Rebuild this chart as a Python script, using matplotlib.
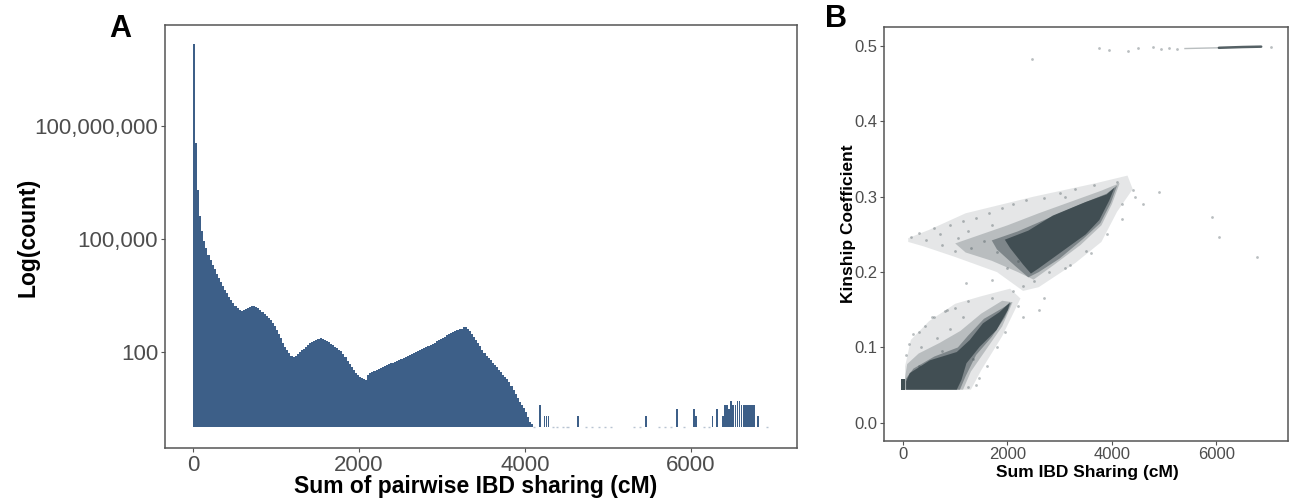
import numpy as np
import matplotlib.pyplot as plt
from matplotlib.ticker import FixedLocator, FuncFormatter

plt.rcParams['font.family'] = ['Liberation Sans', 'DejaVu Sans']

# ---- panel A: histogram of summed IBD sharing (25 cM bins, log10 counts) ----
bin_width = 25
hist_log10 = [
    10.17, 7.55, 6.30, 5.60, 5.20, 4.95, 4.75, 4.58, 4.45, 4.32,
    4.20, 4.08, 3.96, 3.85, 3.75, 3.65, 3.56, 3.47, 3.38, 3.30,
    3.23, 3.16, 3.11, 3.10, 3.12, 3.15, 3.18, 3.20, 3.21, 3.22,
    3.20, 3.17, 3.12, 3.06, 3.00, 2.95, 2.90, 2.85, 2.78, 2.68,
    2.58, 2.47, 2.36, 2.25, 2.14, 2.06, 1.98, 1.90, 1.86, 1.90,
    1.95, 2.00, 2.05, 2.09, 2.14, 2.19, 2.23, 2.27, 2.30, 2.33,
    2.35, 2.36, 2.34, 2.32, 2.30, 2.26, 2.22, 2.18, 2.14, 2.10,
    2.06, 2.02, 1.95, 1.86, 1.76, 1.68, 1.60, 1.52, 1.45, 1.39,
    1.34, 1.30, 1.27, 1.26, 1.38, 1.44, 1.46, 1.49, 1.52, 1.55,
    1.58, 1.61, 1.64, 1.66, 1.68, 1.70, 1.71, 1.74, 1.76, 1.78,
    1.81, 1.83, 1.86, 1.89, 1.91, 1.94, 1.96, 1.99, 2.02, 2.04,
    2.07, 2.10, 2.12, 2.15, 2.18, 2.22, 2.25, 2.28, 2.31, 2.35,
    2.38, 2.41, 2.44, 2.47, 2.50, 2.52, 2.55, 2.57, 2.60, 2.62,
    2.65, 2.66, 2.62, 2.56, 2.48, 2.40, 2.32, 2.24, 2.15, 2.06,
    1.98, 1.90, 1.85, 1.78, 1.72, 1.65, 1.59, 1.53, 1.46, 1.40,
    1.33, 1.27, 1.20, 1.10, 1.00, 0.88, 0.78, 0.68, 0.60, 0.50,
    0.40, 0.28, 0.15, 0.08,
]
# sparse tail bins beyond ~4100 cM (left edge, count)
tail_bins = [4175, 4225, 4250, 4275, 4625, 5450, 5825, 6025, 6050, 6250,
             6300, 6375, 6400, 6425, 6450, 6475, 6500, 6525, 6550, 6575,
             6600, 6625, 6650, 6675, 6700, 6725, 6750, 6800]
tail_counts = [4, 2, 2, 2, 2, 2, 3, 3, 2, 2,
               3, 2, 4, 4, 3, 5, 4, 4, 5, 5,
               4, 4, 4, 4, 4, 4, 4, 2]
# bins holding a single pair (drawn flat on the baseline)
single_bins = [4100, 4325, 4375, 4450, 4500, 4725, 4800, 4875, 4950, 5025,
               5300, 5375, 5600, 5675, 5750, 5900, 6150, 6200, 6900]

a_xticks = [0, 2000, 4000, 6000]
a_yticks = [100, 100000, 100000000]

# ---- panel B: kinship vs summed IBD, dense regions outlined (cM, kinship) ----
low_halo_x = [40, 1300, 1500, 1900, 2250, 2050, 1500, 1000, 500, 150, 40]
low_halo_y = [0.044, 0.044, 0.070, 0.115, 0.165, 0.178, 0.168, 0.158, 0.135, 0.110, 0.075]
low_mid_x = [40, 1150, 1300, 1600, 1900, 2100, 1900, 1500, 1100, 700, 300, 80, 40]
low_mid_y = [0.044, 0.044, 0.068, 0.098, 0.128, 0.160, 0.162, 0.145, 0.122, 0.106, 0.092, 0.078, 0.060]
low_inner_x = [50, 1090, 1200, 1400, 1700, 1950, 2080, 1900, 1550, 1250, 1050, 600, 200, 50]
low_inner_y = [0.044, 0.044, 0.062, 0.090, 0.114, 0.140, 0.160, 0.152, 0.138, 0.116, 0.100, 0.088, 0.072, 0.058]
low_core_x = [60, 1030, 1120, 1215, 1470, 1790, 2010, 2050, 1850, 1530, 1280, 1030, 515, 130, 60]
low_core_y = [0.044, 0.044, 0.057, 0.079, 0.101, 0.123, 0.150, 0.160, 0.147, 0.132, 0.110, 0.094, 0.083, 0.066, 0.055]
zero_core_x = [-30, 40, 40, -30]
zero_core_y = [0.044, 0.044, 0.058, 0.058]

up_halo_x = [100, 500, 1200, 2500, 3700, 4300, 4400, 4100, 3800, 3300, 2600, 2300, 1800, 1000, 400, 100]
up_halo_y = [0.245, 0.256, 0.278, 0.300, 0.318, 0.328, 0.310, 0.280, 0.240, 0.212, 0.180, 0.175, 0.200, 0.220, 0.234, 0.240]
up_mid_x = [1000, 1500, 2000, 2600, 3200, 3800, 4150, 4000, 3800, 3400, 2900, 2500, 2200, 1700, 1200]
up_mid_y = [0.238, 0.250, 0.262, 0.278, 0.293, 0.308, 0.318, 0.290, 0.262, 0.236, 0.210, 0.190, 0.200, 0.215, 0.226]
up_inner_x = [1700, 2200, 2800, 3400, 3900, 4100, 3980, 3780, 3450, 3000, 2600, 2400, 2150, 1800]
up_inner_y = [0.242, 0.254, 0.272, 0.290, 0.304, 0.315, 0.292, 0.265, 0.244, 0.218, 0.200, 0.193, 0.208, 0.230]
up_core_x = [1950, 2400, 2870, 3500, 3900, 4050, 3950, 3760, 3500, 3000, 2600, 2450, 2300, 2050]
up_core_y = [0.243, 0.255, 0.275, 0.293, 0.303, 0.312, 0.295, 0.269, 0.250, 0.225, 0.205, 0.198, 0.210, 0.232]

# parent-offspring band at kinship 0.5
po_faint_x = [5400, 6050]
po_faint_y = [0.4965, 0.4975]
po_dark_x = [6050, 6500, 6860]
po_dark_y = [0.4975, 0.4985, 0.4990]

# isolated pairs and scattered pairs in the cloud edges
sparse_x = [3760, 3950, 4300, 4500, 4780, 4950, 5100, 5250, 7050, 2480,
            4400, 4450, 4900, 5920, 6050, 6770, 4600, 3100, 3600, 2700,
            300, 600, 850, 2300, 2600, 1200, 1700, 4200,
            150, 300, 450, 600, 750, 900, 1050, 1150, 1300, 1400,
            1550, 1650, 1800, 1900, 2100, 2200, 2350, 2500, 2700, 2800,
            3000, 3200, 3300, 3500, 3650, 3900, 4100, 4200, 1000, 700,
            1250, 2000, 2300, 3100, 1700,
            60, 120, 200, 350, 420, 550, 650, 800, 900, 1000,
            1150, 1250, 1350, 1450, 1600, 1700, 1800, 1950, 2100, 2200,
            1400, 1250, 750, 300]
sparse_y = [0.497, 0.495, 0.493, 0.497, 0.498, 0.496, 0.497, 0.496, 0.499, 0.483,
            0.309, 0.300, 0.306, 0.273, 0.246, 0.220, 0.290, 0.205, 0.225, 0.165,
            0.120, 0.140, 0.150, 0.140, 0.150, 0.185, 0.190, 0.270,
            0.247, 0.252, 0.243, 0.258, 0.236, 0.262, 0.245, 0.268, 0.232, 0.272,
            0.241, 0.279, 0.226, 0.285, 0.290, 0.215, 0.295, 0.188, 0.298, 0.200,
            0.305, 0.210, 0.310, 0.228, 0.316, 0.250, 0.320, 0.290, 0.228, 0.250,
            0.255, 0.205, 0.182, 0.300, 0.262,
            0.090, 0.105, 0.118, 0.100, 0.128, 0.140, 0.112, 0.148, 0.125, 0.152,
            0.140, 0.162, 0.085, 0.060, 0.075, 0.165, 0.100, 0.120, 0.175, 0.155,
            0.050, 0.048, 0.095, 0.075]

b_xticks = [0, 2000, 4000, 6000]
b_yticks = [0.0, 0.1, 0.2, 0.3, 0.4, 0.5]

bar_color = '#3d5f88'
pt_color = '#37454a'
frame_color = '#555555'
tick_color = '#4d4d4d'

fig = plt.figure(figsize=(12.9, 5.01), dpi=100)
ax_a = fig.add_axes([0.1279, 0.1058, 0.4899, 0.8442])
ax_b = fig.add_axes([0.6853, 0.1198, 0.3131, 0.8262])

# ---- panel A ----
edges = np.arange(len(hist_log10)) * bin_width
counts = 10 ** np.array(hist_log10)
ax_a.bar(edges, counts - 1, width=bin_width, bottom=1, align='edge',
         color=bar_color, linewidth=0)
ax_a.bar(tail_bins, np.array(tail_counts) - 1, width=bin_width * 0.8, bottom=1,
         align='edge', color=bar_color, linewidth=0)
ax_a.hlines([1] * len(single_bins), single_bins, np.array(single_bins) + bin_width,
            color='#b8c4d2', linewidth=1)
ax_a.set_yscale('log')
ax_a.set_xlim(-337, 7277)
ax_a.set_ylim(10 ** -0.55, 10 ** 10.68)
ax_a.xaxis.set_major_locator(FixedLocator(a_xticks))
ax_a.yaxis.set_major_locator(FixedLocator(a_yticks))
ax_a.yaxis.set_minor_locator(FixedLocator([]))
ax_a.yaxis.set_major_formatter(FuncFormatter(lambda v, p: f"{int(round(v)):,}"))
ax_a.tick_params(labelsize=16, length=3, width=0.8, color=frame_color,
                 labelcolor=tick_color, pad=2)

# ---- panel B ----
layers = [
    (low_halo_x, low_halo_y, 0.13),
    (up_halo_x, up_halo_y, 0.13),
    (low_mid_x, low_mid_y, 0.25),
    (up_mid_x, up_mid_y, 0.25),
    (low_inner_x, low_inner_y, 0.45),
    (up_inner_x, up_inner_y, 0.45),
    (low_core_x, low_core_y, 0.85),
    (up_core_x, up_core_y, 0.85),
    (zero_core_x, zero_core_y, 0.95),
]
for xs, ys, alpha in layers:
    ax_b.fill(xs, ys, color=pt_color, alpha=alpha, linewidth=0)
ax_b.plot(po_faint_x, po_faint_y, color=pt_color, alpha=0.35, linewidth=1.0)
ax_b.plot(po_dark_x, po_dark_y, color=pt_color, alpha=0.85, linewidth=1.8,
          solid_capstyle='round')
ax_b.scatter(sparse_x, sparse_y, s=4, color=pt_color, alpha=0.35, linewidths=0)
ax_b.set_xlim(-363, 7372)
ax_b.set_ylim(-0.024, 0.525)
ax_b.xaxis.set_major_locator(FixedLocator(b_xticks))
ax_b.yaxis.set_major_locator(FixedLocator(b_yticks))
ax_b.yaxis.set_major_formatter(FuncFormatter(lambda v, p: f"{v:.1f}"))
ax_b.tick_params(labelsize=12, length=3, width=0.8, color=frame_color,
                 labelcolor=tick_color, pad=1.5)

for ax in (ax_a, ax_b):
    for s in ax.spines.values():
        s.set_color(frame_color)
        s.set_linewidth(1.1)

# labels
fig.text(476 / 1290, 1 - 486 / 501, "Sum of pairwise IBD sharing (cM)",
         fontsize=16.5, fontweight='bold', ha='center', va='center')
fig.text(28 / 1290, 1 - 237 / 501, "Log(count)", fontsize=16.5,
         fontweight='bold', rotation=90, ha='center', va='center')
fig.text(1087 / 1290, 1 - 473 / 501, "Sum IBD Sharing (cM)",
         fontsize=12.5, fontweight='bold', ha='center', va='center')
fig.text(849 / 1290, 1 - 224 / 501, "Kinship Coefficient", fontsize=12.5,
         fontweight='bold', rotation=90, ha='center', va='center')
fig.text(120 / 1290, 1 - 29 / 501, "A", fontsize=22, fontweight='bold',
         ha='center', va='center')
fig.text(836 / 1290, 1 - 19 / 501, "B", fontsize=22, fontweight='bold',
         ha='center', va='center')

fig.savefig("out.png", dpi=100)
